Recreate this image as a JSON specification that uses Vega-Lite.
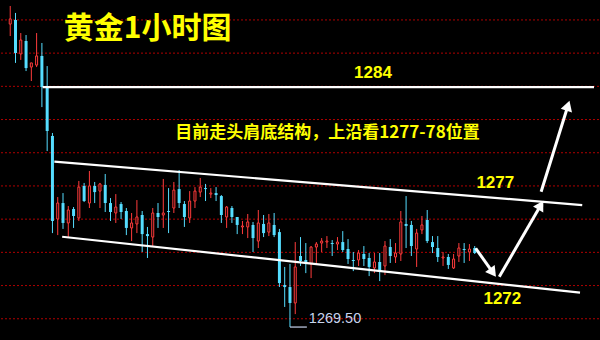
{
  "$schema": "https://vega.github.io/schema/vega-lite/v6.json",
  "width": 600,
  "height": 340,
  "padding": 0,
  "autosize": {"type": "fit", "contains": "padding"},
  "background": "#000000",
  "config": {"view": {"stroke": null}},
  "datasets": {
    "grid": [{"p":1270},{"p":1272},{"p":1274},{"p":1276},{"p":1278},{"p":1280},{"p":1282},{"p":1284},{"p":1286},{"p":1288}],
    "candles": [
      {"i":0,"o":1287.75,"h":1288.84,"l":1287.03,"c":1288.06},
      {"i":1,"o":1288.00,"h":1288.42,"l":1285.41,"c":1286.01},
      {"i":2,"o":1285.95,"h":1287.21,"l":1285.59,"c":1286.79},
      {"i":3,"o":1286.73,"h":1287.09,"l":1284.92,"c":1285.10},
      {"i":4,"o":1285.16,"h":1285.41,"l":1284.32,"c":1285.41},
      {"i":5,"o":1285.28,"h":1287.21,"l":1285.16,"c":1285.83},
      {"i":6,"o":1285.83,"h":1286.61,"l":1282.75,"c":1283.96},
      {"i":7,"o":1283.96,"h":1285.22,"l":1280.10,"c":1281.31},
      {"i":8,"o":1281.01,"h":1281.19,"l":1275.16,"c":1275.89},
      {"i":9,"o":1276.01,"h":1277.33,"l":1275.04,"c":1276.97},
      {"i":10,"o":1276.97,"h":1277.57,"l":1275.41,"c":1275.77},
      {"i":11,"o":1275.77,"h":1276.79,"l":1274.92,"c":1276.55},
      {"i":12,"o":1276.61,"h":1276.73,"l":1275.47,"c":1276.19},
      {"i":13,"o":1276.07,"h":1278.30,"l":1275.89,"c":1277.93},
      {"i":14,"o":1278.00,"h":1278.18,"l":1277.03,"c":1277.09},
      {"i":15,"o":1276.97,"h":1278.90,"l":1276.67,"c":1278.00},
      {"i":16,"o":1278.00,"h":1278.24,"l":1276.97,"c":1277.63},
      {"i":17,"o":1277.69,"h":1278.18,"l":1276.67,"c":1278.12},
      {"i":18,"o":1278.06,"h":1278.72,"l":1276.43,"c":1276.97},
      {"i":19,"o":1276.97,"h":1277.27,"l":1275.89,"c":1276.43},
      {"i":20,"o":1276.37,"h":1277.51,"l":1275.77,"c":1276.73},
      {"i":21,"o":1276.91,"h":1277.03,"l":1276.01,"c":1276.43},
      {"i":22,"o":1276.49,"h":1276.67,"l":1275.04,"c":1275.47},
      {"i":23,"o":1275.47,"h":1276.37,"l":1274.68,"c":1275.77},
      {"i":24,"o":1275.71,"h":1277.15,"l":1275.16,"c":1276.13},
      {"i":25,"o":1276.25,"h":1276.49,"l":1274.02,"c":1275.10},
      {"i":26,"o":1275.10,"h":1275.53,"l":1273.66,"c":1274.98},
      {"i":27,"o":1274.92,"h":1276.67,"l":1274.38,"c":1276.37},
      {"i":28,"o":1276.37,"h":1276.97,"l":1275.47,"c":1276.13},
      {"i":29,"o":1276.25,"h":1278.42,"l":1275.47,"c":1276.37},
      {"i":30,"o":1276.49,"h":1277.87,"l":1275.16,"c":1276.43},
      {"i":31,"o":1276.67,"h":1278.24,"l":1276.37,"c":1277.75},
      {"i":32,"o":1277.81,"h":1278.96,"l":1276.67,"c":1276.97},
      {"i":33,"o":1276.91,"h":1277.09,"l":1275.53,"c":1276.13},
      {"i":34,"o":1276.07,"h":1277.69,"l":1275.77,"c":1277.09},
      {"i":35,"o":1277.09,"h":1277.93,"l":1276.67,"c":1277.69},
      {"i":36,"o":1277.63,"h":1278.48,"l":1277.33,"c":1277.93},
      {"i":37,"o":1277.87,"h":1278.12,"l":1277.09,"c":1277.81},
      {"i":38,"o":1277.51,"h":1277.87,"l":1277.27,"c":1277.57},
      {"i":39,"o":1277.57,"h":1277.93,"l":1277.09,"c":1277.45},
      {"i":40,"o":1277.39,"h":1277.45,"l":1275.77,"c":1276.25},
      {"i":41,"o":1276.13,"h":1276.79,"l":1275.47,"c":1276.73},
      {"i":42,"o":1276.67,"h":1276.79,"l":1275.77,"c":1276.13},
      {"i":43,"o":1276.13,"h":1276.13,"l":1275.10,"c":1275.65},
      {"i":44,"o":1275.53,"h":1275.89,"l":1275.10,"c":1275.59},
      {"i":45,"o":1275.53,"h":1276.31,"l":1274.86,"c":1275.83},
      {"i":46,"o":1275.65,"h":1275.83,"l":1274.02,"c":1274.86},
      {"i":47,"o":1274.68,"h":1276.55,"l":1274.26,"c":1275.77},
      {"i":48,"o":1275.71,"h":1276.25,"l":1274.92,"c":1275.16},
      {"i":49,"o":1275.22,"h":1276.31,"l":1274.98,"c":1275.77},
      {"i":50,"o":1275.65,"h":1276.37,"l":1274.92,"c":1275.04},
      {"i":51,"o":1275.22,"h":1275.41,"l":1271.91,"c":1272.15},
      {"i":52,"o":1272.03,"h":1273.12,"l":1270.71,"c":1271.91},
      {"i":53,"o":1271.91,"h":1273.30,"l":1269.50,"c":1270.95},
      {"i":54,"o":1270.95,"h":1274.62,"l":1270.28,"c":1273.12},
      {"i":55,"o":1273.78,"h":1274.92,"l":1273.18,"c":1273.48},
      {"i":56,"o":1273.54,"h":1274.56,"l":1272.75,"c":1273.36},
      {"i":57,"o":1273.30,"h":1274.38,"l":1272.45,"c":1274.32},
      {"i":58,"o":1274.32,"h":1274.62,"l":1273.36,"c":1274.50},
      {"i":59,"o":1274.56,"h":1274.86,"l":1274.02,"c":1274.68},
      {"i":60,"o":1274.62,"h":1274.98,"l":1274.26,"c":1274.68},
      {"i":61,"o":1274.56,"h":1274.74,"l":1273.78,"c":1274.50},
      {"i":62,"o":1274.50,"h":1274.92,"l":1274.14,"c":1274.62},
      {"i":63,"o":1274.62,"h":1275.28,"l":1274.02,"c":1274.14},
      {"i":64,"o":1274.20,"h":1274.80,"l":1273.30,"c":1273.60},
      {"i":65,"o":1273.54,"h":1274.02,"l":1272.87,"c":1273.48},
      {"i":66,"o":1273.54,"h":1274.14,"l":1273.18,"c":1273.96},
      {"i":67,"o":1273.90,"h":1274.38,"l":1273.18,"c":1273.60},
      {"i":68,"o":1273.66,"h":1273.96,"l":1272.57,"c":1273.12},
      {"i":69,"o":1273.06,"h":1273.96,"l":1272.75,"c":1273.42},
      {"i":70,"o":1273.42,"h":1273.96,"l":1272.27,"c":1272.87},
      {"i":71,"o":1273.18,"h":1274.68,"l":1272.63,"c":1274.38},
      {"i":72,"o":1274.32,"h":1274.80,"l":1273.36,"c":1273.78},
      {"i":73,"o":1273.72,"h":1274.56,"l":1273.36,"c":1273.96},
      {"i":74,"o":1273.90,"h":1276.49,"l":1273.48,"c":1275.83},
      {"i":75,"o":1275.71,"h":1277.39,"l":1274.26,"c":1275.59},
      {"i":76,"o":1275.65,"h":1275.89,"l":1273.78,"c":1274.38},
      {"i":77,"o":1274.20,"h":1275.41,"l":1273.12,"c":1275.16},
      {"i":78,"o":1275.35,"h":1276.19,"l":1275.10,"c":1275.65},
      {"i":79,"o":1275.95,"h":1276.55,"l":1274.56,"c":1274.68},
      {"i":80,"o":1274.62,"h":1274.98,"l":1273.96,"c":1274.32},
      {"i":81,"o":1274.26,"h":1274.98,"l":1273.42,"c":1273.72},
      {"i":82,"o":1273.66,"h":1274.02,"l":1273.18,"c":1273.72},
      {"i":83,"o":1273.72,"h":1273.90,"l":1273.00,"c":1273.24},
      {"i":84,"o":1273.06,"h":1273.90,"l":1273.00,"c":1273.60},
      {"i":85,"o":1273.78,"h":1274.56,"l":1273.42,"c":1274.26},
      {"i":86,"o":1274.20,"h":1274.56,"l":1273.36,"c":1274.14},
      {"i":87,"o":1274.02,"h":1274.50,"l":1273.48,"c":1274.20},
      {"i":88,"o":1274.26,"h":1274.38,"l":1273.90,"c":1273.96}
    ],
    "lines": [
      {"id":"h","i":6.13,"p":1283.95},{"id":"h","i":110.6,"p":1283.95},
      {"id":"u","i":8.36,"p":1279.46},{"id":"u","i":108.37,"p":1276.85},
      {"id":"d","i":9.84,"p":1274.94},{"id":"d","i":107.95,"p":1271.57}
    ],
    "arrows": [
      {"id":"a","i":88.19,"p":1274.24},{"id":"a","i":91.45,"p":1272.78},
      {"id":"b","i":92.65,"p":1272.53},{"id":"b","i":100.51,"p":1276.84},
      {"id":"c","i":100.58,"p":1277.65},{"id":"c","i":105.66,"p":1282.83}
    ]
  },
  "layer": [
    {
      "data": {"name": "grid"},
      "mark": {"type": "rule", "color": "#b00000", "strokeWidth": 1, "strokeDash": [2, 2]},
      "encoding": {
        "y": {"field": "p", "type": "quantitative", "scale": {"domain": [1268.72, 1289.2], "nice": false, "zero": false}, "axis": null}
      }
    },
    {
      "data": {"name": "candles"},
      "mark": {"type": "rule", "strokeWidth": 1},
      "encoding": {
        "x": {"field": "i", "type": "quantitative", "scale": {"domain": [-0.8, 110.6], "nice": false, "zero": false}, "axis": null},
        "y": {"field": "l", "type": "quantitative", "scale": {"domain": [1268.72, 1289.2], "nice": false, "zero": false}, "axis": null},
        "y2": {"field": "h"},
        "color": {"condition": {"test": "datum.c >= datum.o", "value": "#ff3c3c"}, "value": "#55ddff"}
      }
    },
    {
      "data": {"name": "candles"},
      "transform": [{"filter": "datum.c < datum.o"}],
      "mark": {"type": "bar", "size": 3, "color": "#55ddff"},
      "encoding": {
        "x": {"field": "i", "type": "quantitative", "scale": {"domain": [-0.8, 110.6], "nice": false, "zero": false}, "axis": null},
        "y": {"field": "o", "type": "quantitative", "scale": {"domain": [1268.72, 1289.2], "nice": false, "zero": false}, "axis": null},
        "y2": {"field": "c"}
      }
    },
    {
      "data": {"name": "candles"},
      "transform": [{"filter": "datum.c >= datum.o"}],
      "mark": {"type": "bar", "size": 2, "fill": "#000000", "stroke": "#ff3c3c", "strokeWidth": 1},
      "encoding": {
        "x": {"field": "i", "type": "quantitative", "scale": {"domain": [-0.8, 110.6], "nice": false, "zero": false}, "axis": null},
        "y": {"field": "o", "type": "quantitative", "scale": {"domain": [1268.72, 1289.2], "nice": false, "zero": false}, "axis": null},
        "y2": {"field": "c"}
      }
    },
    {
      "data": {"name": "lines"},
      "mark": {"type": "line", "color": "#ffffff", "strokeWidth": 2.2},
      "encoding": {
        "x": {"field": "i", "type": "quantitative", "scale": {"domain": [-0.8, 110.6], "nice": false, "zero": false}, "axis": null},
        "y": {"field": "p", "type": "quantitative", "scale": {"domain": [1268.72, 1289.2], "nice": false, "zero": false}, "axis": null},
        "detail": {"field": "id"}
      }
    },
    {
      "data": {"name": "arrows"},
      "mark": {"type": "line", "color": "#ffffff", "strokeWidth": 3},
      "encoding": {
        "x": {"field": "i", "type": "quantitative", "scale": {"domain": [-0.8, 110.6], "nice": false, "zero": false}, "axis": null},
        "y": {"field": "p", "type": "quantitative", "scale": {"domain": [1268.72, 1289.2], "nice": false, "zero": false}, "axis": null},
        "detail": {"field": "id"}
      }
    },
    {
      "data": {"values": [{"i": 91.45, "p": 1272.78}]},
      "mark": {"type": "point", "shape": "triangle-up", "filled": true, "color": "#ffffff", "opacity": 1, "size": 140, "angle": 144},
      "encoding": {
        "x": {"field": "i", "type": "quantitative", "scale": {"domain": [-0.8, 110.6], "nice": false, "zero": false}, "axis": null},
        "y": {"field": "p", "type": "quantitative", "scale": {"domain": [1268.72, 1289.2], "nice": false, "zero": false}, "axis": null}
      }
    },
    {
      "data": {"values": [{"i": 100.51, "p": 1276.84}]},
      "mark": {"type": "point", "shape": "triangle-up", "filled": true, "color": "#ffffff", "opacity": 1, "size": 140, "angle": 30.6},
      "encoding": {
        "x": {"field": "i", "type": "quantitative", "scale": {"domain": [-0.8, 110.6], "nice": false, "zero": false}, "axis": null},
        "y": {"field": "p", "type": "quantitative", "scale": {"domain": [1268.72, 1289.2], "nice": false, "zero": false}, "axis": null}
      }
    },
    {
      "data": {"values": [{"i": 105.66, "p": 1282.83}]},
      "mark": {"type": "point", "shape": "triangle-up", "filled": true, "color": "#ffffff", "opacity": 1, "size": 140, "angle": 17.7},
      "encoding": {
        "x": {"field": "i", "type": "quantitative", "scale": {"domain": [-0.8, 110.6], "nice": false, "zero": false}, "axis": null},
        "y": {"field": "p", "type": "quantitative", "scale": {"domain": [1268.72, 1289.2], "nice": false, "zero": false}, "axis": null}
      }
    },
    {
      "data": {"values": [{"i": 53, "i2": 56.2, "p": 1269.5}]},
      "mark": {"type": "rule", "color": "#c8d4ee", "strokeWidth": 1.2},
      "encoding": {
        "x": {"field": "i", "type": "quantitative", "scale": {"domain": [-0.8, 110.6], "nice": false, "zero": false}, "axis": null},
        "x2": {"field": "i2"},
        "y": {"field": "p", "type": "quantitative", "scale": {"domain": [1268.72, 1289.2], "nice": false, "zero": false}, "axis": null}
      }
    },
    {
      "data": {"values": [{"t": "黄金1小时图", "i": 10.16, "p": 1287.45}]},
      "mark": {"type": "text", "align": "left", "baseline": "middle", "font": "Noto Sans CJK SC", "fontSize": 30, "fontWeight": "bold", "color": "#ffff00"},
      "encoding": {
        "x": {"field": "i", "type": "quantitative", "scale": {"domain": [-0.8, 110.6], "nice": false, "zero": false}, "axis": null},
        "y": {"field": "p", "type": "quantitative", "scale": {"domain": [1268.72, 1289.2], "nice": false, "zero": false}, "axis": null},
        "text": {"field": "t"}
      }
    },
    {
      "data": {"values": [{"t": "目前走头肩底结构，上沿看1277-78位置", "i": 60.10, "p": 1281.19}]},
      "mark": {"type": "text", "align": "center", "baseline": "middle", "font": "Noto Sans CJK SC", "fontSize": 17, "fontWeight": "bold", "color": "#ffff00"},
      "encoding": {
        "x": {"field": "i", "type": "quantitative", "scale": {"domain": [-0.8, 110.6], "nice": false, "zero": false}, "axis": null},
        "y": {"field": "p", "type": "quantitative", "scale": {"domain": [1268.72, 1289.2], "nice": false, "zero": false}, "axis": null},
        "text": {"field": "t"}
      }
    },
    {
      "data": {"values": [
        {"t": "1284", "i": 68.73, "p": 1284.80},
        {"t": "1277", "i": 91.90, "p": 1278.15},
        {"t": "1272", "i": 93.24, "p": 1271.16}
      ]},
      "mark": {"type": "text", "align": "center", "baseline": "middle", "font": "Liberation Sans", "fontSize": 17, "fontWeight": "bold", "color": "#ffff00"},
      "encoding": {
        "x": {"field": "i", "type": "quantitative", "scale": {"domain": [-0.8, 110.6], "nice": false, "zero": false}, "axis": null},
        "y": {"field": "p", "type": "quantitative", "scale": {"domain": [1268.72, 1289.2], "nice": false, "zero": false}, "axis": null},
        "text": {"field": "t"}
      }
    },
    {
      "data": {"values": [{"t": "1269.50", "i": 56.57, "p": 1269.98}]},
      "mark": {"type": "text", "align": "left", "baseline": "middle", "font": "Liberation Sans", "fontSize": 14.5, "color": "#c8d4ee"},
      "encoding": {
        "x": {"field": "i", "type": "quantitative", "scale": {"domain": [-0.8, 110.6], "nice": false, "zero": false}, "axis": null},
        "y": {"field": "p", "type": "quantitative", "scale": {"domain": [1268.72, 1289.2], "nice": false, "zero": false}, "axis": null},
        "text": {"field": "t"}
      }
    }
  ]
}
